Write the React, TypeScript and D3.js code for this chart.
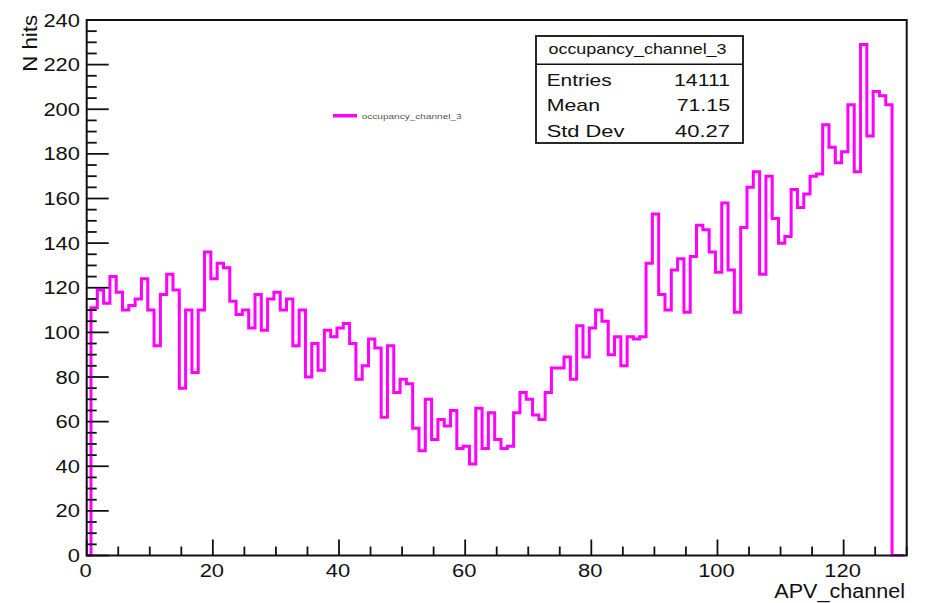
import React from 'react';
import * as d3 from 'd3';

// ---- data ----
const counts: number[] = [
  0, 111, 119, 113, 125, 118, 110, 112, 115, 124,
  110, 94, 117, 126, 119, 75, 110, 82, 110, 136,
  124, 131, 129, 114, 108, 110, 102, 117, 101, 115,
  118, 110, 115, 94, 110, 80, 95, 83, 101, 98,
  102, 104, 95, 79, 85, 97, 93, 62, 94, 73,
  79, 77, 57, 47, 70, 52, 61, 58, 65, 48,
  49, 41, 66, 48, 64, 52, 48, 49, 64, 73,
  70, 63, 61, 73, 84, 84, 89, 79, 103, 89,
  102, 110, 105, 90, 98, 85, 98, 97, 98, 131,
  153, 117, 110, 128, 133, 109, 134, 148, 146, 136,
  127, 158, 128, 109, 147, 165, 172, 126, 170, 151,
  140, 143, 164, 156, 162, 170, 171, 193, 183, 176,
  181, 202, 172, 229, 188, 208, 206, 202, 0, 0,
];
const xMajorTicks = [0, 20, 40, 60, 80, 100, 120];
const yMajorTicks = [0, 20, 40, 60, 80, 100, 120, 140, 160, 180, 200, 220, 240];
const xMinorStep = 5;
const yMinorStep = 5;
const histName = 'occupancy_channel_3';
const statLabels = ['Entries', 'Mean', 'Std Dev'];
const statValues = ['14111', '71.15', '40.27'];
const xTitle = 'APV_channel';
const yTitle = 'N hits';

// ---- layout ----
const W = 926;
const H = 603;
const L = 86.7, R = 906.7, T = 20, B = 555.5;
const FONT = '"Liberation Sans", Arial, Helvetica, sans-serif';
const MAGENTA = '#ff00ff';
const digitW = 12.2;
const binShift = 0.18;
const statLabelW: Record<string, number> = { Entries: 65, Mean: 53.3, 'Std Dev': 77.7 };
const statValueW: Record<string, number> = { '14111': 56, '71.15': 53.3, '40.27': 55 };

export default function App() {
  const x = d3.scaleLinear().domain([0, 130]).range([L, R]);
  const y = d3.scaleLinear().domain([0, 240]).range([B, T]);

  const pts: [number, number][] = counts.map((c, i) => [i - 0.5 + binShift, c]);
  pts.push([counts.length - 0.5 + binShift, counts[counts.length - 1]]);
  const line = d3
    .line<[number, number]>()
    .x((d) => x(d[0]))
    .y((d) => y(d[1]))
    .curve(d3.curveStepAfter);

  const xMinor = d3.range(0, 130 + 0.001, xMinorStep).filter((v) => !xMajorTicks.includes(v));
  const yMinor = d3.range(0, 240 + 0.001, yMinorStep).filter((v) => !yMajorTicks.includes(v));

  const boxL = 536, boxR = 743, boxT = 36, boxSep = 64.3, boxB = 143;
  const rowBase = [85.5, 111, 136.5];

  return (
    <svg
      width={W}
      height={H}
      viewBox={`0 0 ${W} ${H}`}
      style={{ position: 'absolute', left: 0, top: 0, background: '#fff' }}
      fontFamily={FONT}
    >
      <rect x={0} y={0} width={W} height={H} fill="#fff" />
      <defs>
        <clipPath id="plotclip">
          <rect x={L} y={T - 2} width={R - L} height={B - T + 3} />
        </clipPath>
      </defs>

      {/* histogram */}
      <path
        d={line(pts) || ''}
        fill="none"
        stroke={MAGENTA}
        strokeWidth={3}
        strokeLinejoin="miter"
        clipPath="url(#plotclip)"
      />

      {/* frame */}
      <rect x={L} y={T} width={R - L} height={B - T} fill="none" stroke="#111" strokeWidth={2} />

      {/* x ticks */}
      {xMajorTicks.map((v) => (
        <line key={'xM' + v} x1={x(v)} x2={x(v)} y1={B} y2={B - 16} stroke="#111" strokeWidth={1.8} />
      ))}
      {xMinor.map((v) => (
        <line key={'xm' + v} x1={x(v)} x2={x(v)} y1={B} y2={B - 9} stroke="#111" strokeWidth={1.8} />
      ))}
      {xMajorTicks.map((v) => (
        <text
          key={'xl' + v}
          x={x(v) - 1}
          y={576.7}
          textAnchor="middle"
          fontSize={18}
          fill="#111"
          textLength={String(v).length * digitW}
          lengthAdjust="spacingAndGlyphs"
        >
          {v}
        </text>
      ))}

      {/* y ticks */}
      {yMajorTicks.map((v) => (
        <line key={'yM' + v} x1={L} x2={L + 22} y1={y(v)} y2={y(v)} stroke="#111" strokeWidth={1.8} />
      ))}
      {yMinor.map((v) => (
        <line key={'ym' + v} x1={L} x2={L + 10} y1={y(v)} y2={y(v)} stroke="#111" strokeWidth={1.8} />
      ))}
      {yMajorTicks.map((v) => (
        <text
          key={'yl' + v}
          x={80}
          y={y(v) + 6.5}
          textAnchor="end"
          fontSize={18}
          fill="#111"
          textLength={String(v).length * digitW}
          lengthAdjust="spacingAndGlyphs"
        >
          {v}
        </text>
      ))}

      {/* axis titles */}
      <text
        x={905}
        y={598}
        textAnchor="end"
        fontSize={20}
        fill="#111"
        textLength={130.7}
        lengthAdjust="spacingAndGlyphs"
      >
        {xTitle}
      </text>
      <text
        transform={`translate(36.5, 15) rotate(-90)`}
        textAnchor="end"
        fontSize={20}
        fill="#111"
        textLength={56.7}
        lengthAdjust="spacingAndGlyphs"
      >
        {yTitle}
      </text>

      {/* legend */}
      <line x1={333} x2={357} y1={115.7} y2={115.7} stroke={MAGENTA} strokeWidth={3.5} />
      <text x={361.7} y={118.5} fontSize={8} fill="#555" textLength={100} lengthAdjust="spacingAndGlyphs">
        {histName}
      </text>

      {/* stats box */}
      <rect x={boxL} y={boxT} width={boxR - boxL} height={boxB - boxT} fill="#fff" stroke="#111" strokeWidth={1.8} />
      <line x1={boxL} x2={boxR} y1={boxSep} y2={boxSep} stroke="#111" strokeWidth={1.5} />
      <text
        x={637.5}
        y={54}
        textAnchor="middle"
        fontSize={14.5}
        fill="#111"
        textLength={178}
        lengthAdjust="spacingAndGlyphs"
      >
        {histName}
      </text>
      {statLabels.map((lab, i) => (
        <g key={lab}>
          <text
            x={546.7}
            y={rowBase[i]}
            fontSize={17}
            fill="#111"
            textLength={statLabelW[lab]}
            lengthAdjust="spacingAndGlyphs"
          >
            {lab}
          </text>
          <text
            x={730}
            y={rowBase[i]}
            textAnchor="end"
            fontSize={17}
            fill="#111"
            textLength={statValueW[statValues[i]]}
            lengthAdjust="spacingAndGlyphs"
          >
            {statValues[i]}
          </text>
        </g>
      ))}
    </svg>
  );
}
